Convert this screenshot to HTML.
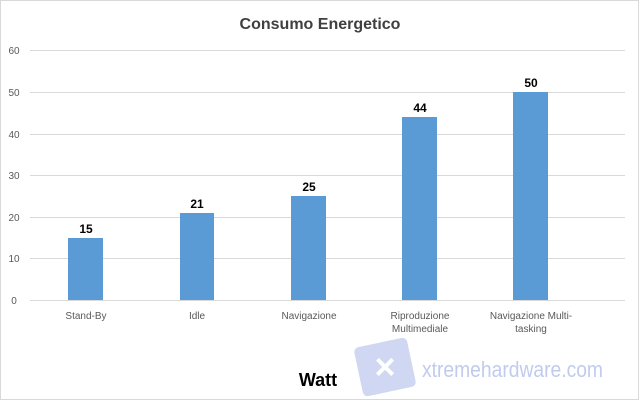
<!DOCTYPE html>
<html><head><style>
html,body{margin:0;padding:0;background:#fff;}
svg{display:block;font-family:"Liberation Sans",sans-serif;}
</style></head><body>
<svg width="639" height="400" viewBox="0 0 639 400" xmlns="http://www.w3.org/2000/svg">
<rect x="0.5" y="0.5" width="638" height="399" fill="#fff" stroke="#d9d9d9"/>
<text x="320" y="29" text-anchor="middle" font-size="16" font-weight="bold" fill="#404040">Consumo Energetico</text>
<g stroke="#d9d9d9" stroke-width="1">
<line x1="30" x2="625" y1="50.5" y2="50.5"/>
<line x1="30" x2="625" y1="92.5" y2="92.5"/>
<line x1="30" x2="625" y1="134.5" y2="134.5"/>
<line x1="30" x2="625" y1="175.5" y2="175.5"/>
<line x1="30" x2="625" y1="217.5" y2="217.5"/>
<line x1="30" x2="625" y1="258.5" y2="258.5"/>
<line x1="30" x2="625" y1="300.5" y2="300.5"/>
</g>
<g font-size="10" fill="#595959" text-anchor="middle">
<text x="14" y="54">60</text><text x="14" y="96">50</text><text x="14" y="138">40</text>
<text x="14" y="179">30</text><text x="14" y="221">20</text><text x="14" y="262">10</text><text x="14" y="304">0</text>
</g>
<g fill="#5b9bd5">
<rect x="68" y="238" width="35" height="62"/>
<rect x="180" y="213" width="34" height="87"/>
<rect x="291" y="196" width="35" height="104"/>
<rect x="402" y="117" width="35" height="183"/>
<rect x="513" y="92" width="35" height="208"/>
</g>
<g font-size="12" font-weight="bold" fill="#000" text-anchor="middle">
<text x="86" y="233">15</text><text x="197" y="208">21</text><text x="309" y="191">25</text>
<text x="420" y="112">44</text><text x="531" y="87">50</text>
</g>
<g font-size="10" fill="#595959" text-anchor="middle">
<text x="86" y="319">Stand-By</text>
<text x="197" y="319">Idle</text>
<text x="309" y="319">Navigazione</text>
<text x="420" y="319">Riproduzione</text><text x="420" y="332">Multimediale</text>
<text x="531" y="319">Navigazione Multi-</text><text x="531" y="332">tasking</text>
</g>
<g opacity="0.55">
<rect x="358" y="342" width="54" height="50" rx="5" fill="#a8b8e8" transform="rotate(-12 385 367)"/>
<text x="385" y="379" text-anchor="middle" font-size="36" fill="#fff" font-weight="bold">×</text>
<text x="422" y="377" font-size="22" fill="#8ea2e0" textLength="181" lengthAdjust="spacingAndGlyphs">xtremehardware.com</text>
</g>
<text x="318" y="386" text-anchor="middle" font-size="18" font-weight="bold" fill="#000">Watt</text>
</svg>
</body></html>
